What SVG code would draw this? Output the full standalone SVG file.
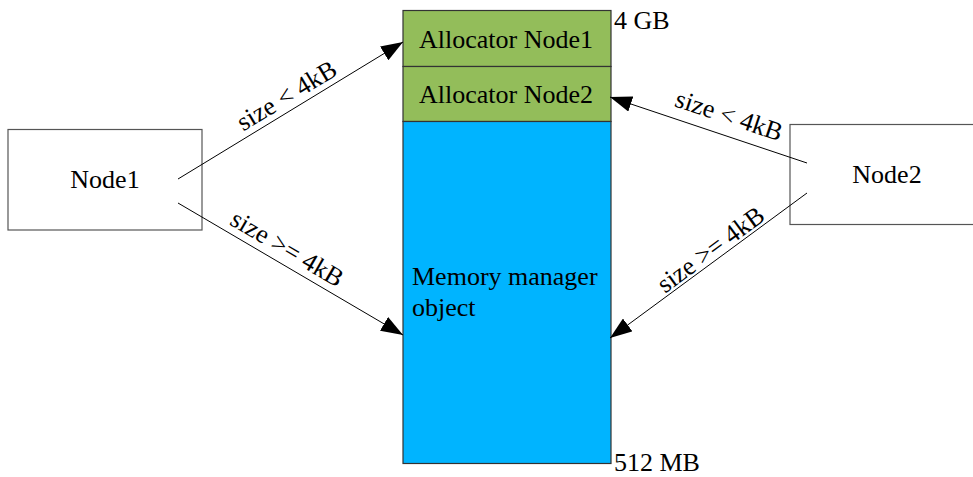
<svg xmlns="http://www.w3.org/2000/svg" width="973" height="477" viewBox="0 0 973 477">
<style>
text{font-family:"Liberation Serif","Times New Roman",serif;font-size:26px;fill:#000}
.box{fill:#fff;stroke:#555;stroke-width:1.2}
.col{stroke:#333;stroke-width:1.2}
.conn{stroke:#000;stroke-width:1;fill:none;marker-end:url(#ah)}
</style>
<defs>
<marker id="ah" viewBox="0 0 22 16" refX="22" refY="8" markerWidth="22" markerHeight="16" markerUnits="userSpaceOnUse" orient="auto">
<path d="M0,0 L22,8 L0,16 Z" fill="#000"/>
</marker>
</defs>
<g id="node1">
<rect class="box" x="8" y="129.5" width="194" height="100.5"/>
<text x="105" y="188" text-anchor="middle">Node1</text>
</g>
<g id="node2">
<rect class="box" x="790" y="124.5" width="200" height="100"/>
<text x="887" y="183" text-anchor="middle">Node2</text>
</g>
<g id="allocator1">
<rect class="col" x="403" y="10.5" width="208" height="56" fill="#93BD5A"/>
<text x="506" y="48" text-anchor="middle">Allocator Node1</text>
</g>
<g id="allocator2">
<rect class="col" x="403" y="66.5" width="208" height="55" fill="#93BD5A"/>
<text x="506" y="103" text-anchor="middle">Allocator Node2</text>
</g>
<g id="memory">
<rect class="col" x="403" y="121.5" width="208" height="342" fill="#00B4FF"/>
<text x="412" y="285">Memory manager</text>
<text x="412" y="316">object</text>
</g>
<g id="labels">
<text x="614" y="29">4 GB</text>
<text x="614" y="471">512 MB</text>
</g>
<g id="connectors">
<line class="conn" x1="178" y1="179" x2="403" y2="42"/>
<line class="conn" x1="178" y1="203" x2="403" y2="335"/>
<line class="conn" x1="807" y1="163" x2="610" y2="97"/>
<line class="conn" x1="807" y1="193" x2="610" y2="338"/>
<text transform="translate(287,96) rotate(-31)" y="8" text-anchor="middle">size &lt; 4kB</text>
<text transform="translate(287,249) rotate(30.4)" y="8" text-anchor="middle">size &gt;= 4kB</text>
<text transform="translate(729,116) rotate(18.5)" y="8" text-anchor="middle">size &lt; 4kB</text>
<text transform="translate(711,250) rotate(-36.4)" y="8" text-anchor="middle">size &gt;= 4kB</text>
</g>
</svg>
